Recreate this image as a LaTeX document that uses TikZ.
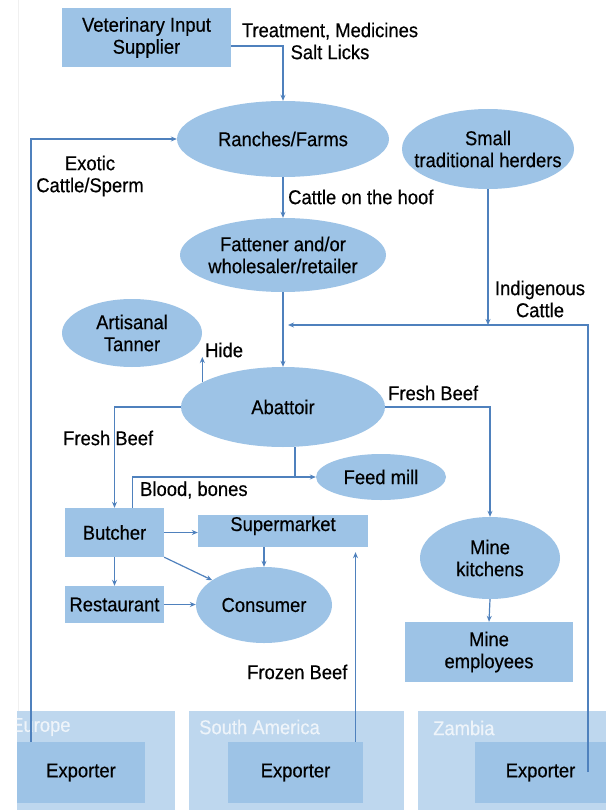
\documentclass[tikz,border=0pt]{standalone}
\usepackage{fontspec}
\setmainfont{Liberation Sans}[FakeStretch=0.92, FakeBold=0.4]
\usetikzlibrary{arrows.meta,shapes.geometric}

\definecolor{nodefill}{RGB}{157,195,230}
\definecolor{panelfill}{RGB}{190,215,238}
\definecolor{flowline}{RGB}{79,129,189}
\definecolor{paneltext}{RGB}{238,244,250}

\tikzset{
  every node/.style={font=\fontsize{20}{22}\selectfont, inner sep=0pt, align=center},
  oval/.style={ellipse, fill=nodefill, inner xsep=-25pt, inner ysep=0pt},
  box/.style={rectangle, fill=nodefill},
  panel/.style={rectangle, fill=panelfill},
  paneltag/.style={anchor=west, text=paneltext},
  tag/.style={anchor=west},
  flow/.style={draw=flowline, line width=1.2pt, -{Stealth[length=6pt,width=5pt]}},
  link/.style={draw=flowline, line width=1.2pt},
}

\begin{document}
\begin{tikzpicture}[x=1pt,y=-1pt]
\useasboundingbox (0,0) rectangle (606,810);
\fill[white] (0,0) rectangle (606,810);
\draw[black!6, line width=0.8pt] (18,0) -- (18,711);

% regional panels and exporters
\node[panel, minimum width=158pt, minimum height=99pt] (pEU) at (96,760.5) {};
\node[panel, minimum width=215pt, minimum height=99pt] (pSA) at (296.5,760.5) {};
\node[panel, minimum width=188pt, minimum height=99pt] (pZM) at (512,760.5) {};
\begin{scope}
  \clip (pEU.north west) rectangle (pEU.south east);
  \node[paneltag] (tEU) at (11,727) {Europe};
\end{scope}
\node[paneltag] (tSA) at (199,727) {South America};
\node[paneltag] (tZM) at (433,728) {Zambia};
\node[box, minimum width=128pt, minimum height=61pt] (expEU) at (81,772.5) {Exporter};
\node[box, minimum width=135pt, minimum height=61pt] (expSA) at (295.5,772.5) {Exporter};
\node[box, minimum width=131pt, minimum height=61pt] (expZM) at (540.5,772.5) {Exporter};

% actors
\node[box, minimum width=169pt, minimum height=59pt] (vet) at (146.5,37.5) {Veterinary Input\\Supplier};
\node[oval, minimum width=212pt, minimum height=76pt] (ranch) at (283,139) {Ranches/Farms};
\node[oval, minimum width=172pt, minimum height=80pt] (herd) at (488,149) {Small\\traditional herders};
\node[oval, minimum width=206pt, minimum height=74pt] (fatt) at (283,255) {Fattener and/or\\wholesaler/retailer};
\node[oval, minimum width=140pt, minimum height=68pt] (tann) at (132,333) {Artisanal\\Tanner};
\node[oval, minimum width=204pt, minimum height=80pt] (abat) at (283,407) {Abattoir};
\node[oval, minimum width=130pt, minimum height=46pt] (feed) at (381,477) {Feed mill};
\node[box, minimum width=99pt, minimum height=49pt] (butch) at (114.5,532.5) {Butcher};
\node[box, minimum width=170pt, minimum height=32pt, text height=14pt, text depth=14pt] (super) at (283,531) {Supermarket};
\node[box, minimum width=99pt, minimum height=37pt] (rest) at (114.5,604.5) {Restaurant};
\node[oval, minimum width=136pt, minimum height=76pt] (cons) at (264,605) {Consumer};
\node[oval, minimum width=140pt, minimum height=82pt] (mk) at (490,558) {Mine\\kitchens};
\node[box, minimum width=168pt, minimum height=60pt] (emp) at (489,652) {Mine\\employees};

% flow labels
\node (lTreat) at (330,41) {Treatment, Medicines\\Salt Licks};
\node (lExotic) at (90,176) {Exotic\\Cattle/Sperm};
\node[tag] (lHoof) at (288,197) {Cattle on the hoof};
\node (lIndig) at (540,299) {Indigenous\\Cattle};
\node[tag] (lHide) at (205,350) {Hide};
\node[tag] (lFreshR) at (388,393) {Fresh Beef};
\node[tag] (lFreshL) at (63,438) {Fresh Beef};
\node[tag] (lBlood) at (140,490) {Blood, bones};
\node[tag] (lFrozen) at (247,672) {Frozen Beef};

% helper points
\coordinate (hideTip) at (199,357);
\coordinate (zmEnd) at (588,772);
\coordinate (merge) at (288,325);

% flows
\draw[flow] ([yshift=-8.5pt]vet.east) -| (ranch.north);
\draw[flow] ([xshift=-50pt]expEU.north) |- (ranch.west);
\draw[flow] (ranch.south) -- (fatt.north);
\draw[flow] (fatt.south) -- (abat.north);
\draw[flow] (zmEnd) -- (zmEnd |- merge) -- (merge);
\draw[flow] (herd.south) -- (herd.south |- merge);
\draw[flow] (abat.163) -- (abat.163 |- hideTip);
\draw[flow] (abat.west) -| (butch.north);
\draw[flow] (abat.east) -| (mk.north);
\draw[link] ([xshift=12pt]abat.south) -- ([xshift=12pt]abat.south |- feed.west);
\draw[flow] ([xshift=18pt]butch.north) |- (feed.west);
\draw[flow] (butch.east) -- (butch.east -| super.west);
\draw[flow] (super.south -| cons.north) -- (cons.north);
\draw[flow] (butch.south east) -- (cons);
\draw[flow] (butch.south) -- (rest.north);
\draw[flow] (rest.east) -- (rest.east -| cons.west);
\draw[flow, shorten >=5pt] ([xshift=60pt]expSA.north) -- ([xshift=60pt]expSA.north |- super.south);
\draw[flow] (mk.south) -- (emp.north);
\end{tikzpicture}
\end{document}
